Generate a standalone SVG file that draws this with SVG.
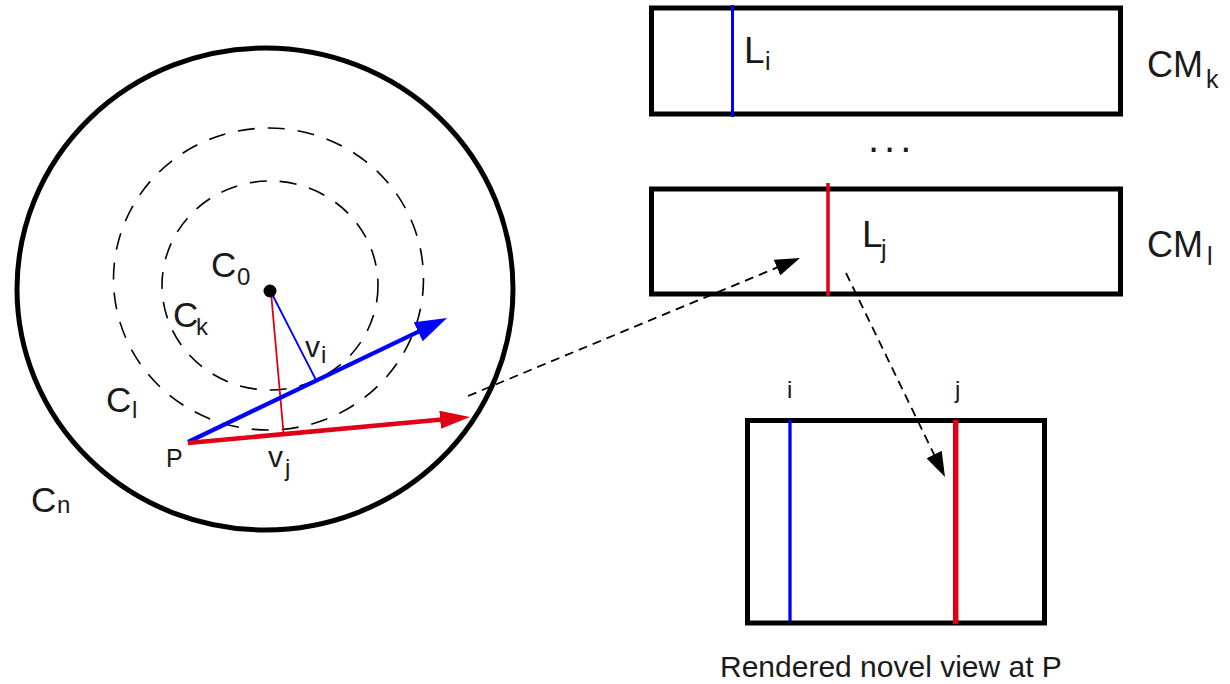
<svg xmlns="http://www.w3.org/2000/svg" width="1230" height="684" viewBox="0 0 1230 684">
  <style>
    text { font-family: "Liberation Sans", Arial, Helvetica, sans-serif; fill: #1a1a1a; }
    .big { font-size: 35px; }
    .sub { font-size: 24px; }
    .mid { font-size: 30px; }
    .frame { fill: none; stroke: #000; stroke-width: 5; }
    .ring { fill: none; stroke: #000; stroke-width: 1.6; stroke-dasharray: 17 13; }
    .link { fill: none; stroke: #000; stroke-width: 1.8; stroke-dasharray: 9 6; }
    .blue { stroke: #0000ff; }
    .red { stroke: #e00015; }
  </style>
  <defs>
    <marker id="head-blue" markerUnits="userSpaceOnUse" orient="auto" markerWidth="32" markerHeight="21" refX="12" refY="10.5">
      <path d="M0,0 L32,10.5 L0,21 z" fill="#0000ff"/>
    </marker>
    <marker id="head-red" markerUnits="userSpaceOnUse" orient="auto" markerWidth="30" markerHeight="18" refX="10" refY="9">
      <path d="M0,0 L30,9 L0,18 z" fill="#e00015"/>
    </marker>
    <marker id="head-black" markerUnits="userSpaceOnUse" orient="auto" markerWidth="25" markerHeight="17" refX="3" refY="8.5">
      <path d="M0,0 L25,8.5 L0,17 z" fill="#000"/>
    </marker>
  </defs>

  <!-- scene: outer bound, concentric camera circles, centre -->
  <g id="scene">
    <ellipse cx="265" cy="289" rx="248" ry="241" fill="none" stroke="#000" stroke-width="5"/>
    <ellipse class="ring" cx="268.5" cy="279" rx="155" ry="151"/>
    <ellipse class="ring" cx="270" cy="285.5" rx="108" ry="104.5"/>
  </g>

  <!-- rays from P and their perpendiculars from C0 -->
  <g id="rays">
    <line x1="271" y1="292" x2="315.5" y2="379" class="blue" stroke-width="1.8"/>
    <line x1="271" y1="292" x2="283.5" y2="433" class="red" stroke-width="1.8"/>
    <line x1="188" y1="442" x2="429" y2="326.6" class="blue" stroke-width="4.2" marker-end="url(#head-blue)"/>
    <line x1="188" y1="443" x2="450.1" y2="418.8" class="red" stroke-width="4.6" marker-end="url(#head-red)"/>
  </g>

  <g id="c0">
    <circle cx="270" cy="291" r="6.5" fill="#000"/>
    <text class="big" x="211" y="277">C</text>
    <text class="sub" x="237" y="285">0</text>
  </g>
  <g id="ck">
    <text class="big" x="173" y="327">C</text>
    <text class="sub" x="196" y="335">k</text>
  </g>
  <g id="cl">
    <text class="big" x="106" y="412">C</text>
    <text class="sub" x="132" y="418">l</text>
  </g>
  <g id="cn">
    <text class="big" x="31" y="512">C</text>
    <text class="sub" x="57" y="513">n</text>
  </g>
  <g id="p">
    <text style="font-size:25px" x="166" y="467">P</text>
  </g>
  <g id="vi">
    <text class="mid" x="305" y="357">v</text>
    <text class="sub" x="321" y="363">i</text>
  </g>
  <g id="vj">
    <text class="mid" x="268" y="467">v</text>
    <text class="sub" x="285" y="476">j</text>
  </g>

  <!-- concentric mosaic CM_k -->
  <g id="cm-k">
    <rect class="frame" x="651.5" y="8" width="469" height="106"/>
    <line x1="732.5" y1="5" x2="732.5" y2="117" class="blue" stroke-width="3"/>
    <text style="font-size:37px" x="744" y="63">L</text>
    <text style="font-size:25px" x="765" y="70">i</text>
    <text style="font-size:36px" x="1147" y="77">CM</text>
    <text style="font-size:25px" x="1206" y="88">k</text>
  </g>

  <text id="ellipsis" style="font-size:40px;letter-spacing:5px" x="868" y="152">...</text>

  <!-- concentric mosaic CM_l -->
  <g id="cm-l">
    <rect class="frame" x="651.5" y="189" width="469" height="105"/>
    <line x1="828" y1="183" x2="828" y2="296" class="red" stroke-width="3.5"/>
    <text style="font-size:37px" x="862" y="247">L</text>
    <text style="font-size:25px" x="881" y="258">j</text>
    <text style="font-size:36px" x="1147" y="257">CM</text>
    <text style="font-size:25px" x="1207" y="265">l</text>
  </g>

  <!-- rendered view at P -->
  <g id="novel-view">
    <rect class="frame" x="747.5" y="420.5" width="297" height="202.5"/>
    <line x1="790" y1="420" x2="790" y2="621" class="blue" stroke-width="3.3"/>
    <line x1="955.7" y1="420" x2="955.7" y2="624" class="red" stroke-width="5.5"/>
    <text class="sub" x="787" y="398">i</text>
    <text class="sub" x="955" y="398">j</text>
    <text style="font-size:30px" x="720" y="677">Rendered novel view at P</text>
  </g>

  <g id="connectors">
    <line class="link" x1="468" y1="396" x2="779.7" y2="266.4" marker-end="url(#head-black)"/>
    <line class="link" x1="846" y1="273" x2="935.4" y2="457.2" marker-end="url(#head-black)"/>
  </g>
</svg>
